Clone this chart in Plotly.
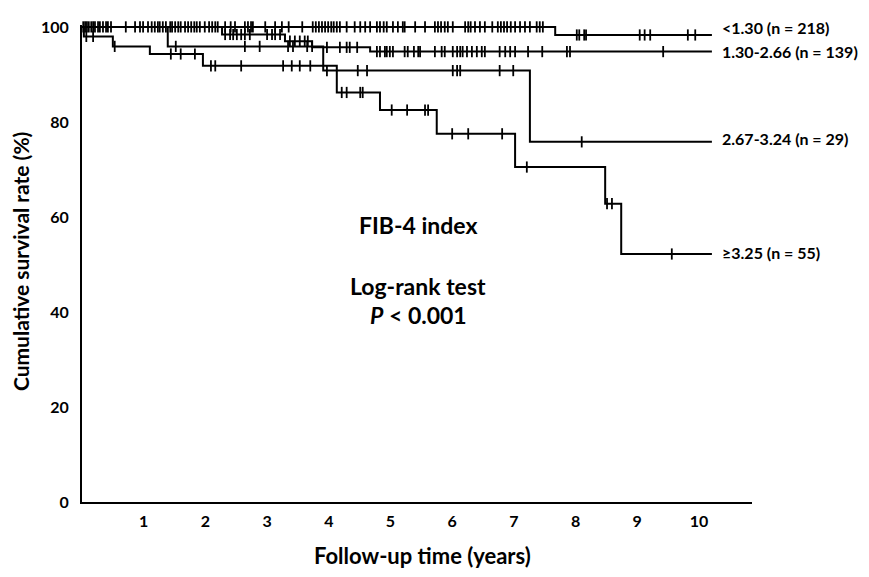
import plotly.graph_objects as go

# ---------------- data ----------------
end_time = 10.21

# <1.30 (n = 218)
a_event_t = [7.67]
a_event_s = [98.3]
a_cens = [0.02, 0.05, 0.08, 0.11, 0.15, 0.18, 0.21, 0.26, 0.29, 0.34, 0.39, 0.42, 0.47,
          0.71, 0.86, 0.94, 0.99, 1.07, 1.13, 1.18, 1.23, 1.26, 1.31, 1.36, 1.43, 1.46,
          1.51, 1.56, 1.60, 1.67, 1.72, 1.77, 1.82, 1.86, 1.91, 1.99, 2.06, 2.11, 2.16,
          2.20, 2.32, 2.41, 2.48, 2.64, 2.69, 2.74, 2.77, 2.97, 3.13, 3.24, 3.35, 3.57,
          3.74, 3.79, 3.84, 3.89, 3.94, 3.99, 4.04, 4.08, 4.13, 4.18, 4.29, 4.42, 4.51,
          4.59, 4.67, 4.78, 4.83, 4.89, 4.94, 5.04, 5.12, 5.20, 5.23, 5.40, 5.56, 5.72,
          5.77, 5.82, 5.88, 5.93, 6.01, 6.21, 6.26, 6.30, 6.37, 6.45, 6.53, 6.65, 6.74,
          6.79, 6.84, 6.89, 6.95, 7.02, 7.10, 7.18, 7.26, 7.37, 7.42, 7.47,
          8.02, 8.06, 8.14, 8.17, 9.04, 9.12, 9.21, 9.82, 9.94]

# 1.30-2.66 (n = 139)
b_event_t = [2.27, 3.29, 3.73, 4.67]
b_event_s = [98.4, 97.0, 95.7, 94.8]
b_cens = [2.32, 2.40, 2.45, 2.51, 2.58, 2.64, 2.72, 3.00, 3.08, 3.13, 3.21,
          3.37, 3.45, 3.53, 3.61, 3.66,
          3.97, 4.18, 4.29, 4.34, 4.46,
          4.78, 4.83, 4.91, 4.94, 4.99, 5.04, 5.23, 5.28, 5.38, 5.45, 5.48, 5.72,
          5.83, 5.88, 6.01, 6.08, 6.13, 6.17, 6.24, 6.32, 6.40, 6.48, 6.53, 6.77,
          6.86, 6.94, 7.02, 7.23, 7.46, 7.86, 7.91, 9.42]

# 2.67-3.24 (n = 29)
c_event_t = [1.39, 3.91, 7.26]
c_event_s = [95.9, 90.8, 75.8]
c_cens = [1.52, 2.64, 2.88, 3.34, 3.42, 3.65, 3.73,
          3.97, 4.47, 4.62, 6.01, 6.08, 6.13, 6.77, 6.99,
          8.10]

# >=3.25 (n = 55)
d_event_t = [0.03, 0.50, 1.10, 1.96, 4.13, 4.83, 5.75, 7.02, 8.48, 8.74]
d_event_s = [98.0, 95.9, 94.3, 91.8, 86.2, 82.5, 77.5, 70.5, 62.8, 52.2]
d_cens = [0.07, 0.18, 0.53, 1.44, 1.60, 1.83,
          2.09, 2.16, 2.58, 3.26, 3.40, 3.53, 3.70,
          4.21, 4.29, 4.51, 4.55,
          5.02, 5.27, 5.56, 5.61,
          6.00, 6.26, 6.81, 7.21, 8.51, 8.59, 9.56]

group_labels = ["&lt;1.30 (n = 218)", "1.30-2.66 (n = 139)",
                "2.67-3.24 (n = 29)", "≥3.25 (n = 55)"]
label_y = [99.9, 94.9, 76.5, 52.5]

x_ticks = [1, 2, 3, 4, 5, 6, 7, 8, 9, 10]
y_ticks = [0, 20, 40, 60, 80, 100]

groups = [
    (a_event_t, a_event_s, a_cens),
    (b_event_t, b_event_s, b_cens),
    (c_event_t, c_event_s, c_cens),
    (d_event_t, d_event_s, d_cens),
]

FONT = "Lato"


def surv_at(t, ev_t, ev_s):
    s = 100.0
    for et, es in zip(ev_t, ev_s):
        if et <= t:
            s = es
    return s


fig = go.Figure()
for ev_t, ev_s, cens in groups:
    xs = [0] + ev_t + [end_time]
    ys = [100] + ev_s + [ev_s[-1]]
    fig.add_trace(go.Scatter(x=xs, y=ys, mode="lines", line_shape="hv",
                             line=dict(color="black", width=2),
                             showlegend=False, hoverinfo="skip", cliponaxis=False))
    fig.add_trace(go.Scatter(x=cens, y=[surv_at(t, ev_t, ev_s) for t in cens],
                             mode="markers",
                             marker=dict(symbol="line-ns-open", size=8, color="black",
                                         line=dict(color="black", width=1.8)),
                             showlegend=False, hoverinfo="skip", cliponaxis=False))

annotations = []
for txt, yv in zip(group_labels, label_y):
    annotations.append(dict(x=10.34, y=yv, xref="x", yref="y", text=txt,
                            showarrow=False, xanchor="left", yanchor="middle",
                            font=dict(family=FONT, size=16, color="black", weight="bold")))

center_font = dict(family=FONT, size=23, color="black", weight="bold")
annotations += [
    dict(x=5.45, y=58.4, xref="x", yref="y", text="FIB-4 index", showarrow=False,
         xanchor="center", yanchor="middle", font=center_font),
    dict(x=5.45, y=45.5, xref="x", yref="y", text="Log-rank test", showarrow=False,
         xanchor="center", yanchor="middle", font=center_font),
    dict(x=5.45, y=39.3, xref="x", yref="y", text="<i>P</i> &lt; 0.001", showarrow=False,
         xanchor="center", yanchor="middle", font=center_font),
    dict(x=-0.0925, y=0.503, xref="paper", yref="paper",
         text="Cumulative survival rate (%)", showarrow=False, textangle=-90,
         xanchor="center", yanchor="middle",
         font=dict(family=FONT, size=21, color="black", weight="bold")),
    dict(x=0.508, y=-0.112, xref="paper", yref="paper",
         text="Follow-up time (years)", showarrow=False,
         xanchor="center", yanchor="middle",
         font=dict(family=FONT, size=22, color="black", weight="bold")),
]

# the page body adds an 8px margin, so the figure is sized/offset to compensate
fig.update_layout(
    width=861, height=569,
    margin=dict(l=74, r=117, t=9, b=75),
    paper_bgcolor="white", plot_bgcolor="white",
    annotations=annotations,
    font=dict(family=FONT, color="black"),
)
fig.update_xaxes(range=[0, 10.86], tickvals=x_ticks, ticktext=[str(v) for v in x_ticks],
                 showgrid=False, zeroline=False, showline=True, linecolor="black",
                 linewidth=2, ticks="", ticklabelstandoff=4,
                 tickfont=dict(family=FONT, size=16, color="black", weight="bold"))
fig.update_yaxes(range=[0, 100.4], tickvals=y_ticks, ticktext=[str(v) for v in y_ticks],
                 showgrid=False, zeroline=False, showline=True, linecolor="black",
                 linewidth=2, ticks="", ticklabelstandoff=8,
                 tickfont=dict(family=FONT, size=16, color="black", weight="bold"))

fig.write_html("out.html")
